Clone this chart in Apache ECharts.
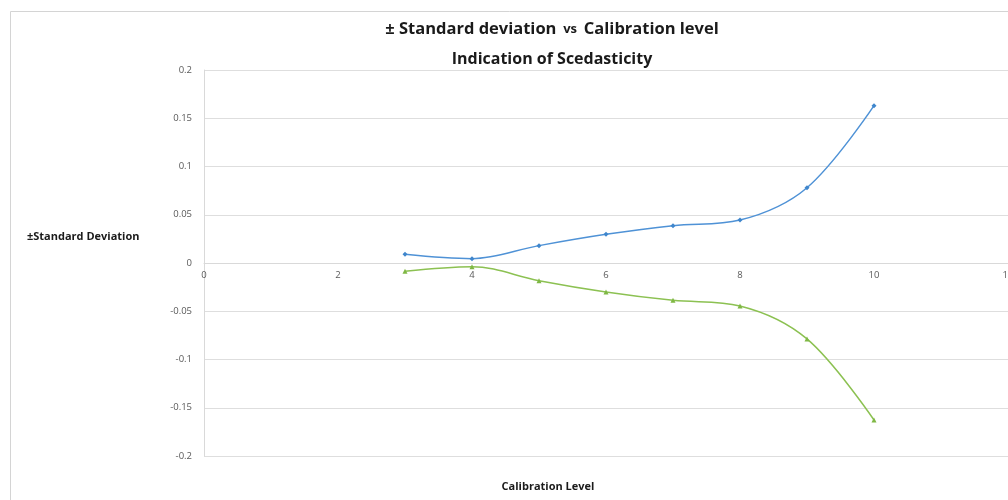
<!DOCTYPE html>
<html>
<head>
<meta charset="utf-8">
<script src="https://cdn.jsdelivr.net/npm/echarts@6/dist/echarts.min.js"></script>
<style>
  html, body { margin: 0; padding: 0; background: #fff; }
  #chart { width: 1008px; height: 500px; }
</style>
</head>
<body>
<div id="chart"></div>
<script>
// Calibration levels and the spread of the measurements at each level
const levels = [3, 4, 5, 6, 7, 8, 9, 10];
const plusSD = [0.009, 0.0045, 0.018, 0.0297, 0.0387, 0.0445, 0.078, 0.163];
const minusSD = [-0.0086, -0.0038, -0.0183, -0.030, -0.0387, -0.0445, -0.0787, -0.1627];

const titleLine1 = ['± Standard deviation', 'vs', 'Calibration level'];
const titleLine2 = 'Indication of Scedasticity';
const yTitle = '±Standard Deviation';
const xTitle = 'Calibration Level';

const font = '"Open Sans", "Liberation Sans", sans-serif';

const gridTop = 70, gridBottom = 44, chartHeight = 500;
const plotHeight = chartHeight - gridTop - gridBottom;

const chart = echarts.init(document.getElementById('chart'), null, { renderer: 'canvas' });

chart.setOption({
  animation: false,
  backgroundColor: '#ffffff',
  grid: {
    left: 204, right: 0, top: gridTop, bottom: gridBottom,
    containLabel: false, outerBoundsMode: 'none'
  },
  xAxis: {
    type: 'value',
    min: 0, max: 12, interval: 2,
    position: 'bottom',
    // the value axis is symmetric about zero, so the x axis sits at mid-height
    offset: -plotHeight / 2,
    axisLine: { show: true, onZero: false, lineStyle: { color: '#d9d9d9', width: 1 } },
    axisTick: { show: false },
    splitLine: { show: false },
    axisLabel: { color: '#595959', fontSize: 9.5, fontFamily: font, margin: 7 }
  },
  yAxis: {
    type: 'value',
    min: -0.2, max: 0.2, interval: 0.05,
    axisLine: { show: true, lineStyle: { color: '#d9d9d9', width: 1 } },
    axisTick: { show: false },
    splitLine: { show: true, lineStyle: { color: '#dedede', width: 1 } },
    axisLabel: {
      color: '#595959', fontSize: 9.5, fontFamily: font, margin: 12,
      formatter: v => String(Math.round(v * 100) / 100)
    }
  },
  series: [
    {
      type: 'line',
      name: '+SD',
      data: levels.map((x, i) => [x, plusSD[i]]),
      smooth: 0.35,
      symbol: 'diamond',
      symbolSize: 5,
      itemStyle: { color: '#3f86cc' },
      lineStyle: { color: '#4f92d6', width: 1.5 }
    },
    {
      type: 'line',
      name: '-SD',
      data: levels.map((x, i) => [x, minusSD[i]]),
      smooth: 0.35,
      symbol: 'triangle',
      symbolSize: 5,
      itemStyle: { color: '#7fb844' },
      lineStyle: { color: '#8cc152', width: 1.5 }
    }
  ],
  graphic: [
    {
      type: 'rect', silent: true, z: -1,
      shape: { x: 10.5, y: 11.5, width: 1200, height: 600 },
      style: { fill: 'none', stroke: '#d4d4d4', lineWidth: 1 }
    },
    {
      type: 'text', x: 552, y: 29,
      style: {
        text: '{a|' + titleLine1[0] + '}{s|  ' + titleLine1[1] + '  }{a|' + titleLine1[2] + '}',
        align: 'center', verticalAlign: 'middle',
        rich: {
          a: { fontSize: 16.5, fontWeight: 'bold', fontFamily: font, fill: '#1a1a1a' },
          s: { fontSize: 13, fontWeight: 'bold', fontFamily: font, fill: '#1a1a1a' }
        }
      }
    },
    {
      type: 'text', x: 552, y: 59,
      style: {
        text: titleLine2, align: 'center', verticalAlign: 'middle',
        fontSize: 16, fontWeight: 'bold', fontFamily: font, fill: '#1a1a1a'
      }
    },
    {
      type: 'text', x: 27, y: 237,
      style: {
        text: yTitle, align: 'left', verticalAlign: 'middle',
        fontSize: 11, fontWeight: 'bold', fontFamily: font, fill: '#1a1a1a'
      }
    },
    {
      type: 'text', x: 548, y: 487,
      style: {
        text: xTitle, align: 'center', verticalAlign: 'middle',
        fontSize: 11, fontWeight: 'bold', fontFamily: font, fill: '#1a1a1a'
      }
    }
  ]
});
</script>
</body>
</html>
